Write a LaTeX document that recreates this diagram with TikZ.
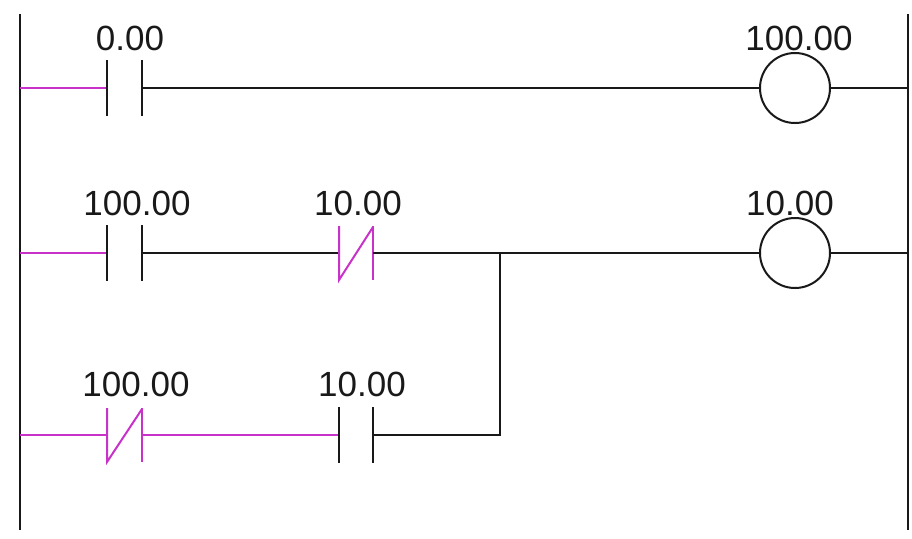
\documentclass[tikz,border=0pt]{standalone}
\usepackage{fontspec}
\setmainfont{Liberation Sans}
\usetikzlibrary{positioning}
\definecolor{plcon}{RGB}{200,50,200}
\definecolor{plcoff}{RGB}{25,25,25}

\begin{document}
\begin{tikzpicture}[x=0.5pt,y=-0.5pt,line width=1pt,color=plcoff,
   lbl/.style={font=\fontsize{17.5}{20}\selectfont,inner sep=0pt,anchor=south,text=plcoff},
   coil/.style={draw,circle,minimum size=35pt,inner sep=0pt}]
   \useasboundingbox (0,0) rectangle (912,538);

   % power rails
   \coordinate (L0) at (20,14);
   \coordinate (L1) at (20,530);
   \coordinate (R0) at (908,14);
   \coordinate (R1) at (908,530);
   \draw (L0) -- (L1);
   \draw (R0) -- (R1);

   % rung 1
   \coordinate (s1) at (20,88);
   \coordinate (a1) at (107,88);
   \coordinate (b1) at (142,88);
   \coordinate (e1) at (908,88);
   \node[coil] (Y1) at (795,88) {};
   \draw[plcon] (s1) -- (a1);
   \draw (a1) ++(0,-28) -- ++(0,56);
   \draw (b1) ++(0,-28) -- ++(0,56);
   \draw (b1) -- (Y1.west);
   \draw (Y1.east) -- (e1);
   \node[lbl] (t1) at (130,52) {0.00};
   \node[lbl] (u1) at (799,52) {100.00};

   % rung 2
   \coordinate (s2) at (20,253);
   \coordinate (a2) at (107,253);
   \coordinate (b2) at (142,253);
   \coordinate (c2) at (339,253);
   \coordinate (d2) at (373,253);
   \coordinate (J) at (500,253);
   \coordinate (e2) at (908,253);
   \node[coil] (Y2) at (795,253) {};
   \draw[plcon] (s2) -- (a2);
   \draw (a2) ++(0,-28) -- ++(0,56);
   \draw (b2) ++(0,-28) -- ++(0,56);
   \draw (b2) -- (c2);
   \draw[plcon] (c2) ++(0,-27) -- ++(0,54) -- ([yshift=13pt]d2);
   \draw[plcon] (d2) ++(0,-27) -- ++(0,54);
   \draw (d2) -- (J) -- (Y2.west);
   \draw (Y2.east) -- (e2);
   \node[lbl] (t2) at (137,217) {100.00};
   \node[lbl] (t3) at (358,217) {10.00};
   \node[lbl] (u2) at (790,217) {10.00};

   % rung 3
   \coordinate (s3) at (20,435);
   \coordinate (a3) at (107,435);
   \coordinate (b3) at (142,435);
   \coordinate (c3) at (339,435);
   \coordinate (d3) at (373,435);
   \coordinate (k3) at (500,435);
   \draw[plcon] (s3) -- (a3);
   \draw[plcon] (a3) ++(0,-27) -- ++(0,54) -- ([yshift=13pt]b3);
   \draw[plcon] (b3) ++(0,-27) -- ++(0,54);
   \draw[plcon] (b3) -- (c3);
   \draw (c3) ++(0,-28) -- ++(0,56);
   \draw (d3) ++(0,-28) -- ++(0,56);
   \draw (d3) -- (k3) -- (J);
   \node[lbl] (t4) at (136,398) {100.00};
   \node[lbl] (t5) at (362,398) {10.00};

 \end{tikzpicture}
\end{document}
